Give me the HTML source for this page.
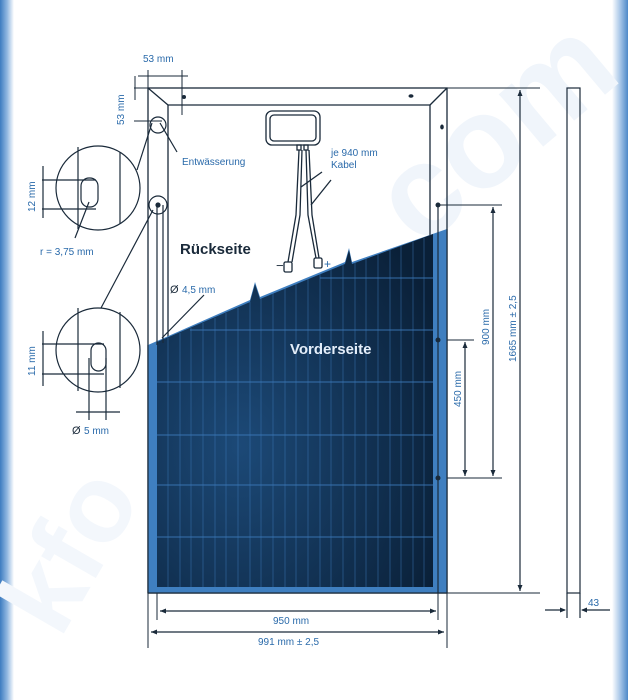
<!DOCTYPE html>
<html><head><meta charset="utf-8"><style>
html,body{margin:0;padding:0;background:#fff;}
svg{display:block;font-family:"Liberation Sans",sans-serif;}
</style></head><body>
<svg width="628" height="700" viewBox="0 0 628 700" xmlns="http://www.w3.org/2000/svg">
<defs>
<linearGradient id="lb" x1="0" x2="1"><stop offset="0" stop-color="#3d7cc0"/><stop offset="0.5" stop-color="#8fb6e0"/><stop offset="1" stop-color="#fff"/></linearGradient>
<linearGradient id="rb" x1="0" x2="1"><stop offset="0" stop-color="#fff"/><stop offset="0.5" stop-color="#a9c7e8"/><stop offset="1" stop-color="#4d88c8"/></linearGradient>
<radialGradient id="pg" cx="0.3" cy="0.6" r="0.8"><stop offset="0" stop-color="#1c4977"/><stop offset="1" stop-color="#0a2038"/></radialGradient>
</defs>
<rect x="0" y="0" width="14" height="700" fill="url(#lb)"/>
<rect x="612" y="0" width="16" height="700" fill="url(#rb)"/>
<text x="420" y="250" font-size="130" font-weight="bold" fill="#f0f5fb" transform="rotate(-40 420 250)">com</text>
<text x="60" y="640" font-size="110" font-weight="bold" fill="#f3f7fc" transform="rotate(-60 60 640)">kfo</text>

<g stroke="#1a2a3a" fill="none" stroke-width="1.3">
<rect x="148" y="88" width="299" height="505"/>
<path d="M168 592 V105 H430 V592"/>
<line x1="148" y1="88" x2="168" y2="105"/>
<line x1="447" y1="88" x2="430" y2="105"/>
</g>
<g stroke="#1a2a3a" stroke-width="1">
<line x1="447" y1="88" x2="540" y2="88"/>
<line x1="447" y1="593" x2="540" y2="593"/>
<line x1="438" y1="205" x2="502" y2="205"/>
<line x1="438" y1="340" x2="474" y2="340"/>
<line x1="438" y1="478" x2="502" y2="478"/>
<line x1="148" y1="593" x2="148" y2="648"/>
<line x1="447" y1="593" x2="447" y2="648"/>
<line x1="157" y1="593" x2="157" y2="620"/>
<line x1="438" y1="593" x2="438" y2="620"/>
<line x1="135" y1="76" x2="135" y2="100"/><line x1="148" y1="70" x2="148" y2="88"/><line x1="182" y1="70" x2="182" y2="115"/>
<line x1="134" y1="88" x2="148" y2="88"/><line x1="134" y1="121" x2="162" y2="121"/>
</g>
<polygon points="148,345 250,300 255,282 260,297 345,262 349,248 352,262 447,229 447,593 148,593" fill="#3f7fc0"/>
<polygon points="157,342 250,302 255,284 260,299 345,264 349,250 352,264 433,234 433,587 157,587" fill="url(#pg)"/>
<g stroke="#3b78b8" stroke-width="1" opacity="0.9">
<line x1="157" y1="382" x2="433" y2="382"/><line x1="157" y1="435" x2="433" y2="435"/>
<line x1="157" y1="485" x2="433" y2="485"/><line x1="157" y1="537" x2="433" y2="537"/>
<line x1="190" y1="330" x2="433" y2="330"/><line x1="320" y1="278" x2="433" y2="278"/>
</g>
<g stroke="#3b78b8" stroke-width="0.8" opacity="0.6">
<line x1="168" y1="338" x2="168" y2="587"/><line x1="180" y1="333" x2="180" y2="587"/><line x1="191" y1="328" x2="191" y2="587"/>
<line x1="203" y1="323" x2="203" y2="587"/><line x1="215" y1="318" x2="215" y2="587"/><line x1="226" y1="313" x2="226" y2="587"/>
<line x1="238" y1="308" x2="238" y2="587"/><line x1="250" y1="302" x2="250" y2="587"/><line x1="261" y1="298" x2="261" y2="587"/>
<line x1="273" y1="293" x2="273" y2="587"/><line x1="285" y1="288" x2="285" y2="587"/><line x1="296" y1="284" x2="296" y2="587"/>
<line x1="308" y1="279" x2="308" y2="587"/><line x1="320" y1="274" x2="320" y2="587"/><line x1="331" y1="270" x2="331" y2="587"/>
<line x1="343" y1="265" x2="343" y2="587"/><line x1="355" y1="262" x2="355" y2="587"/><line x1="366" y1="258" x2="366" y2="587"/>
<line x1="378" y1="254" x2="378" y2="587"/><line x1="390" y1="250" x2="390" y2="587"/><line x1="401" y1="246" x2="401" y2="587"/>
<line x1="413" y1="242" x2="413" y2="587"/><line x1="424" y1="238" x2="424" y2="587"/>
</g>
<g stroke="#1a2a3a" fill="none" stroke-width="1.2">
<line x1="148" y1="345" x2="148" y2="593"/><line x1="148" y1="593" x2="447" y2="593"/><line x1="447" y1="229" x2="447" y2="593"/>
<line x1="438" y1="205" x2="438" y2="593"/>
<line x1="157" y1="205" x2="157" y2="345"/><line x1="163" y1="205" x2="163" y2="343"/>
</g>
<g fill="#1a2a3a"><circle cx="438" cy="205" r="2.5"/><circle cx="438" cy="340" r="2.5"/><circle cx="438" cy="478" r="2.5"/>
<ellipse cx="411" cy="96" rx="2.5" ry="1.8"/><ellipse cx="442" cy="127" rx="1.8" ry="2.5"/><ellipse cx="184" cy="97" rx="2" ry="2"/></g>
<text x="290" y="354" font-size="15" font-weight="bold" fill="#e4eefa">Vorderseite</text>

<g stroke="#1a2a3a" fill="none" stroke-width="1.3">
<rect x="266" y="111" width="54" height="34" rx="6"/><rect x="270" y="115" width="46" height="26" rx="4"/>
<rect x="297" y="145" width="4" height="5"/><rect x="304" y="145" width="4" height="5"/>
<path d="M299 150 L296 215 L288 262"/><path d="M302 150 L300 215 L292 262"/>
<path d="M306 150 L308 215 L316 258"/><path d="M309 150 L312 215 L319 258"/>
<rect x="284" y="262" width="8" height="10" rx="1.5"/><rect x="314" y="258" width="8" height="10" rx="1.5"/>
<line x1="301" y1="187" x2="322" y2="172"/><line x1="311" y1="205" x2="331" y2="180"/>
</g>
<text x="276" y="270" font-size="13" fill="#1a2a3a">−</text>
<text x="324" y="268" font-size="12" fill="#2a6aaa">+</text>
<text x="180" y="254" font-size="15" font-weight="bold" fill="#1a2a3a">Rückseite</text>
<text x="331" y="156" font-size="10" fill="#2a6aaa">je 940 mm</text>
<text x="331" y="168" font-size="10" fill="#2a6aaa">Kabel</text>

<g stroke="#1a2a3a" fill="none" stroke-width="1.2">
<circle cx="158" cy="125" r="8"/><circle cx="158" cy="205" r="9"/><circle cx="158" cy="205" r="2" fill="#1a2a3a"/>
<line x1="160" y1="123" x2="177" y2="152"/>
<circle cx="98" cy="188" r="42"/><circle cx="98" cy="350" r="42"/>
<line x1="137" y1="170" x2="152" y2="123"/><line x1="101" y1="308" x2="153" y2="210"/>
<line x1="78" y1="147" x2="78" y2="229"/><line x1="120" y1="152" x2="120" y2="224"/>
<line x1="78" y1="308" x2="78" y2="391"/><line x1="120" y1="312" x2="120" y2="388"/>
<rect x="81" y="178" width="17" height="29" rx="8"/><rect x="91" y="343" width="15" height="28" rx="7.5"/>
<line x1="42" y1="180" x2="96" y2="180"/><line x1="42" y1="209" x2="96" y2="209"/>
<line x1="42" y1="344" x2="104" y2="344"/><line x1="42" y1="374" x2="104" y2="374"/>
<line x1="43" y1="166" x2="43" y2="218"/><line x1="43" y1="331" x2="43" y2="386"/>
<line x1="89" y1="202" x2="75" y2="238"/>
<line x1="89" y1="358" x2="89" y2="420"/><line x1="106" y1="358" x2="106" y2="420"/>
<line x1="76" y1="412" x2="120" y2="412"/>
<line x1="162" y1="338" x2="204" y2="295"/>
</g>
<text x="182" y="165" font-size="10" fill="#2a6aaa">Entwässerung</text>
<text x="40" y="255" font-size="10" fill="#2a6aaa">r = 3,75 mm</text>
<text x="72" y="434" font-size="11" fill="#1a2a3a">Ø</text><text x="84" y="434" font-size="10" fill="#2a6aaa">5 mm</text>
<text x="170" y="293" font-size="11" fill="#1a2a3a">Ø</text><text x="182" y="293" font-size="10" fill="#2a6aaa">4,5 mm</text>
<text x="143" y="62" font-size="10" fill="#2a6aaa">53 mm</text>
<text font-size="10" fill="#2a6aaa" transform="translate(124 125) rotate(-90)">53 mm</text>
<text font-size="10" fill="#2a6aaa" transform="translate(35 212) rotate(-90)">12 mm</text>
<text font-size="10" fill="#2a6aaa" transform="translate(35 376) rotate(-90)">11 mm</text>
<g stroke="#1a2a3a" stroke-width="1"><line x1="138" y1="76" x2="188" y2="76"/></g>

<g stroke="#1a2a3a" stroke-width="1.2">
<line x1="520" y1="90" x2="520" y2="591"/><line x1="493" y1="207" x2="493" y2="476"/><line x1="465" y1="342" x2="465" y2="476"/>
<line x1="151" y1="632" x2="444" y2="632"/><line x1="160" y1="611" x2="436" y2="611"/>
<line x1="545" y1="610" x2="565" y2="610"/><line x1="582" y1="610" x2="610" y2="610"/>
</g>
<g fill="#1a2a3a">
<path d="M520 90 l-2.5 6 h5z"/><path d="M520 591 l-2.5 -6 h5z"/>
<path d="M493 207 l-2.5 6 h5z"/><path d="M493 476 l-2.5 -6 h5z"/>
<path d="M465 342 l-2.5 6 h5z"/><path d="M465 476 l-2.5 -6 h5z"/>
<path d="M151 632 l6 -2.5 v5z"/><path d="M444 632 l-6 -2.5 v5z"/>
<path d="M160 611 l6 -2.5 v5z"/><path d="M436 611 l-6 -2.5 v5z"/>
<path d="M566 610 l-6 -2.5 v5z"/><path d="M581 610 l6 -2.5 v5z"/>
</g>
<text font-size="10" fill="#2a6aaa" transform="translate(516 362) rotate(-90)">1665 mm ± 2,5</text>
<text font-size="10" fill="#2a6aaa" transform="translate(489 345) rotate(-90)">900 mm</text>
<text font-size="10" fill="#2a6aaa" transform="translate(461 407) rotate(-90)">450 mm</text>
<text x="273" y="624" font-size="10" fill="#2a6aaa">950 mm</text>
<text x="258" y="645" font-size="10" fill="#2a6aaa">991 mm ± 2,5</text>
<g stroke="#1a2a3a" fill="none" stroke-width="1.2">
<rect x="567" y="88" width="13" height="505"/>
<line x1="567" y1="593" x2="567" y2="618"/><line x1="580" y1="593" x2="580" y2="618"/>
</g>
<text x="588" y="606" font-size="10" fill="#2a6aaa">43</text>
</svg>
</body></html>
